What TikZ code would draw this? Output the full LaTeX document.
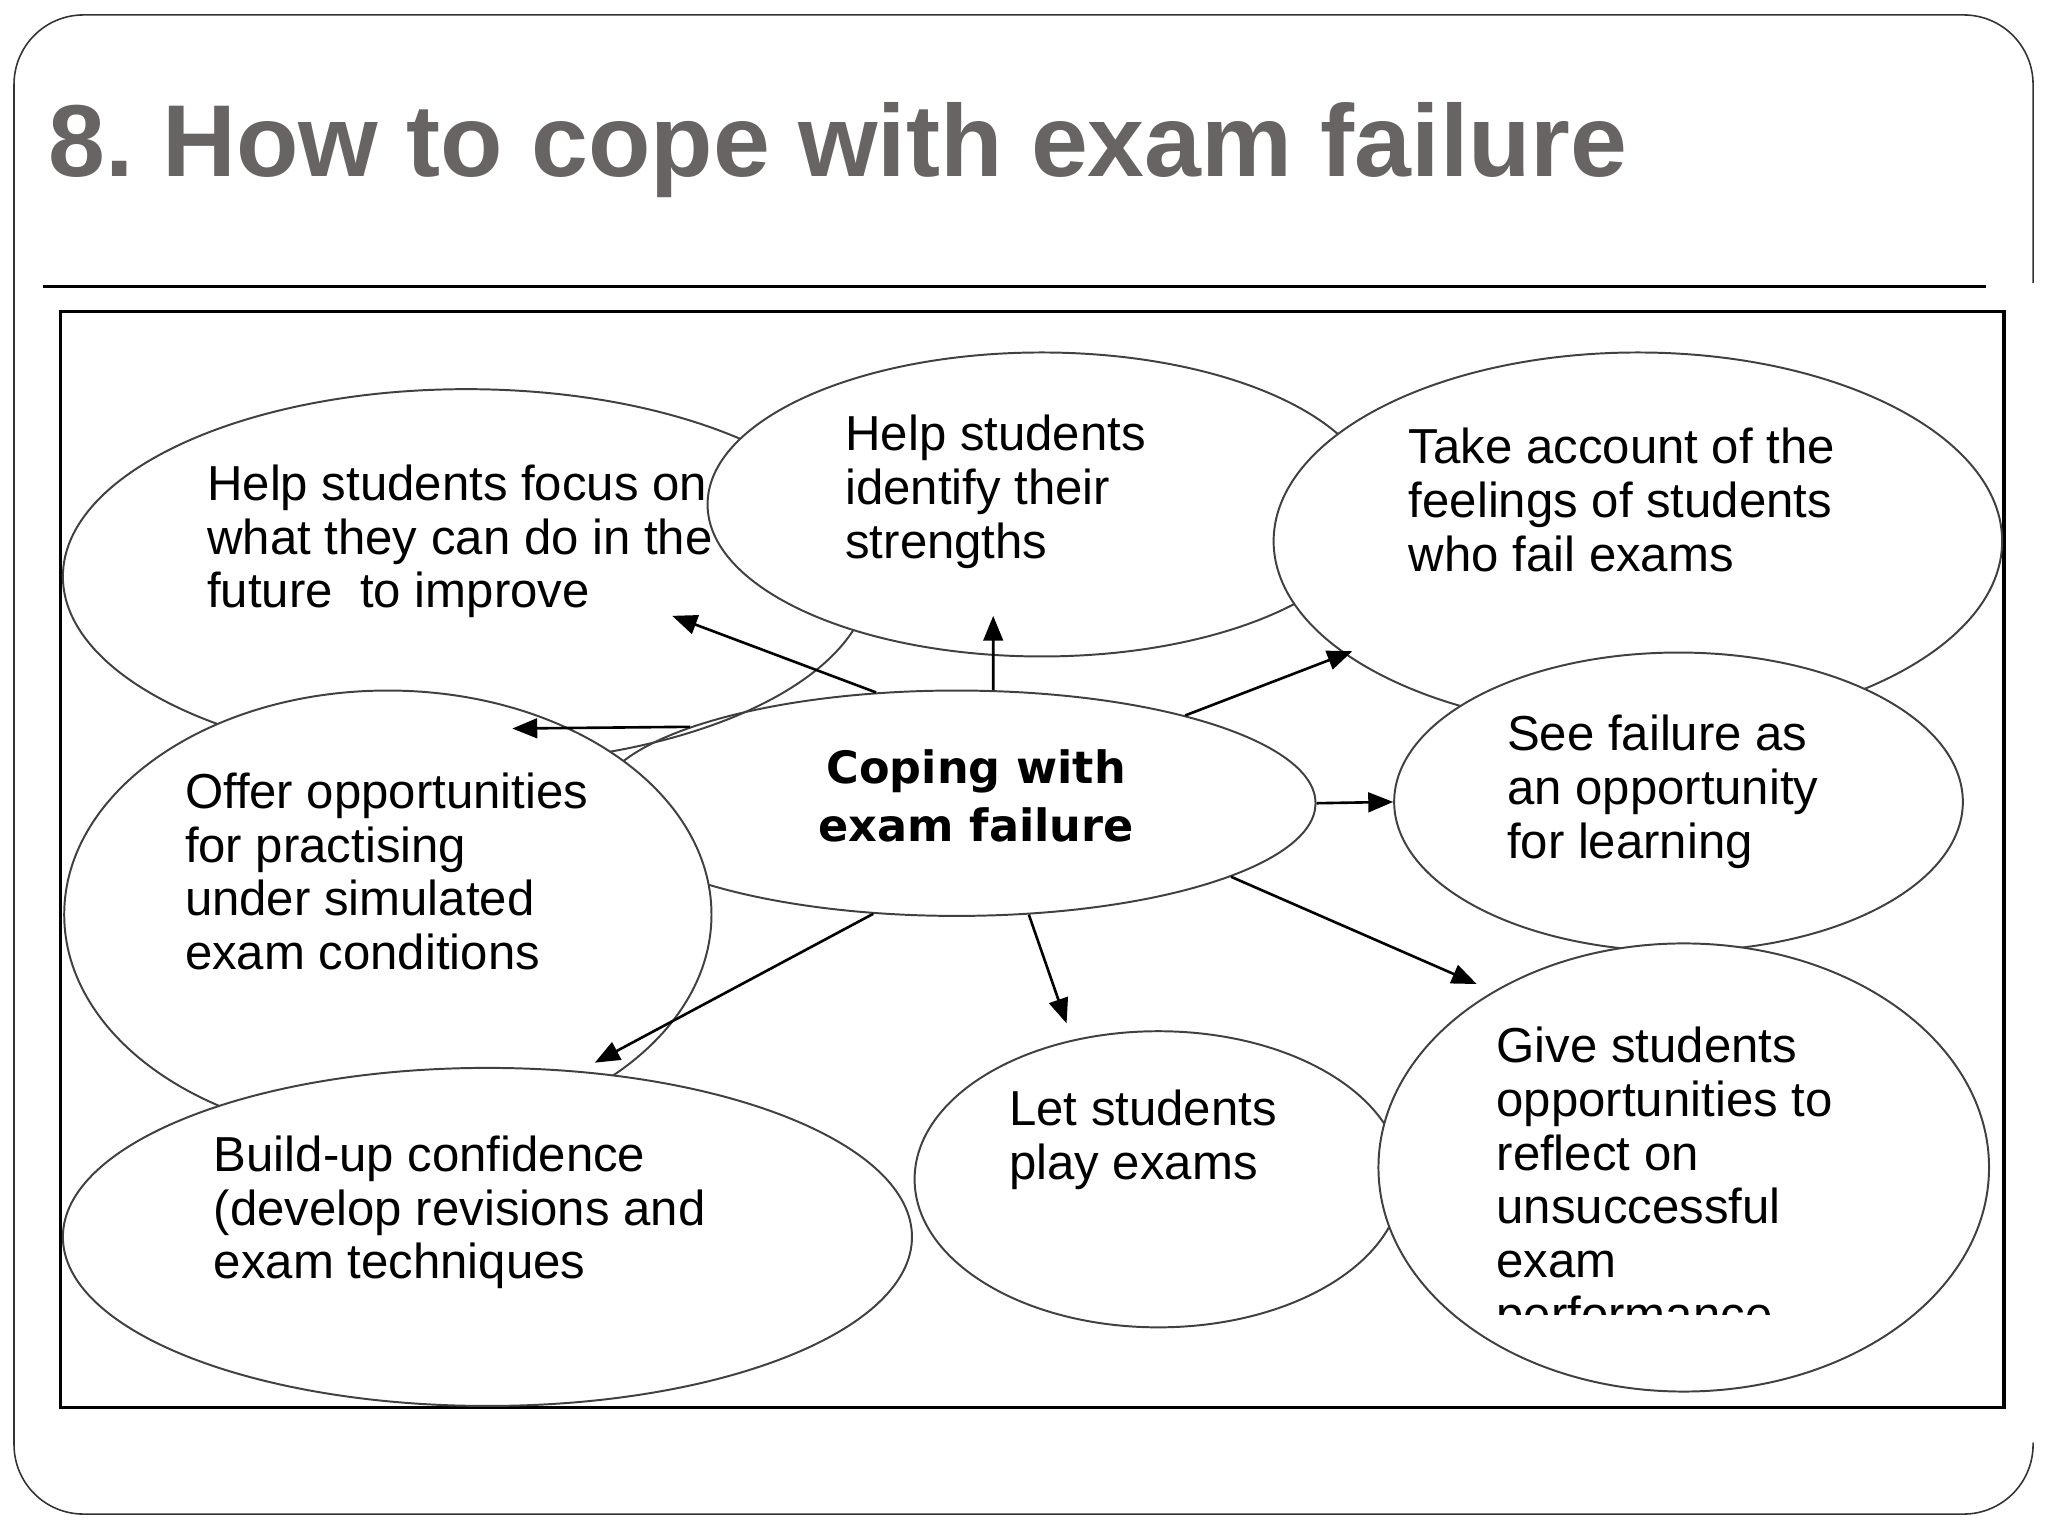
\documentclass[tikz,border=0pt]{standalone}
\usepackage{fontspec}
\setmainfont{Liberation Sans}
\newfontfamily\copingfont{DejaVu Sans}
\usetikzlibrary{arrows.meta}
\usetikzlibrary{shapes}
\definecolor{titlegray}{RGB}{104,100,100}

\begin{document}
\begin{tikzpicture}[x = 1pt, y = -1pt]
	\tikzstyle{bubbleStyle}=[shape = ellipse, inner sep = 0pt, draw = black!75, line width = 1.5pt]
	\tikzstyle{whiteBubbleStyle}=[bubbleStyle, fill = white]
	\tikzstyle{textStyle}=[anchor = base west, align = left, inner sep = 0pt, font = \fontsize{37.5}{41}\selectfont]
	\tikzstyle{arrowStyle}=[-{Triangle[length = 19pt, width = 15pt]}, line width = 2pt]
	\useasboundingbox (0,0) rectangle (1563,1172);
	% slide frame, title and rule
	\draw[black!80, line width = 1.2pt, rounded corners = 53pt] (1551.6,216) -- (1551.6,11.4) -- (10.7,11.4) -- (10.7,1155.5) -- (1551.6,1155.5) -- (1551.6,1101);
	\node[anchor = base west, inner sep = 0pt, text = titlegray, font = \fontsize{78}{90}\selectfont\bfseries] (title) at (37,135) {8.\ How to cope with exam failure};
	\draw[line width = 2.3pt] (32.8,218.3) -- (1515.7,218.3);
	\draw[line width = 2.3pt] (45.8,238.1) rectangle (1529.4,1073.8);
	% bubbles, back to front
	\node[whiteBubbleStyle, minimum width = 616, minimum height = 286] (focus) at (356,440) {};
	\node[whiteBubbleStyle, minimum width = 510, minimum height = 232] (strengths) at (795,385) {};
	\node[whiteBubbleStyle, minimum width = 556, minimum height = 288] (feelings) at (1250,413) {};
	\node[whiteBubbleStyle, minimum width = 434, minimum height = 228] (see) at (1281,612) {};
	\node[bubbleStyle, minimum width = 548, minimum height = 172] (coping) at (730,613) {};
	\node[whiteBubbleStyle, minimum width = 494, minimum height = 342] (offer) at (296,698) {};
	\node[whiteBubbleStyle, minimum width = 648, minimum height = 258] (build) at (372,944) {};
	\node[whiteBubbleStyle, minimum width = 372, minimum height = 226] (play) at (884,900) {};
	\node[whiteBubbleStyle, minimum width = 466, minimum height = 342] (give) at (1285,891) {};
	% arrow tips
	\coordinate (tipFocus) at (513,470);
	\coordinate (tipStrengths) at (758,470);
	\coordinate (tipFeelings) at (1032,497);
	\coordinate (tipGive) at (1127,751);
	\coordinate (tipPlay) at (814,781);
	\coordinate (tipBuild) at (454,811);
	\coordinate (tipOffer) at (391,556);
	\draw[arrowStyle] (coping.126) -- (tipFocus);
	\draw[arrowStyle] (coping.72) -- (tipStrengths);
	\draw[arrowStyle] (coping.21) -- (tipFeelings);
	\draw[arrowStyle] (coping.east) -- (see.west);
	\draw[arrowStyle] (coping.-15) -- (tipGive);
	\draw[arrowStyle] (coping.-57) -- (tipPlay);
	\draw[arrowStyle] (coping.233) -- (tipBuild);
	\draw[arrowStyle] (coping.164) -- (tipOffer);
	% texts (placed by the baseline of their last line)
	\node[textStyle] (focusText) at (158,464) {Help students focus on\\what they can do in the\\future\ \ to improve};
	\node[textStyle] (strengthsText) at (645,426) {Help students\\identify their\\strengths};
	\node[textStyle] (feelingsText) at (1075,436) {Take account of the\\feelings of students\\who fail exams};
	\node[textStyle] (seeText) at (1150,655) {See failure as\\an opportunity\\for learning};
	\node[textStyle] (offerText) at (141,740) {Offer opportunities\\for practising\\under simulated\\exam conditions};
	\node[textStyle] (buildText) at (163,976) {Build-up confidence\\(develop revisions and\\exam techniques};
	\node[textStyle] (playText) at (770,900) {Let students\\play exams};
	\begin{scope}
		\clip (1100,760) rectangle (1500,1003);
		\node[textStyle] (giveText) at (1142,1016) {Give students\\opportunities to\\reflect on\\unsuccessful\\exam\\performance};
	\end{scope}
	\node[anchor = base, align = center, inner sep = 0pt, font = \copingfont\fontsize{34}{44}\selectfont\bfseries] (copingText) at (745,642) {Coping with\\exam failure};
\end{tikzpicture}
\end{document}
